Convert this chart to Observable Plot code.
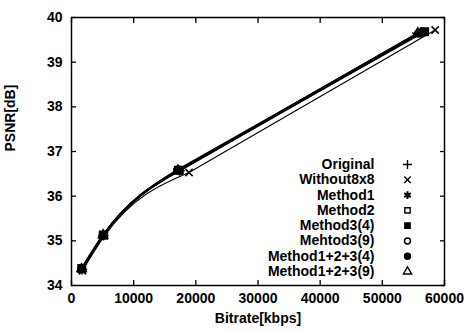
<!DOCTYPE html>
<html>
<head>
<meta charset="utf-8">
<script src="https://cdn.jsdelivr.net/npm/d3@7"></script>
<script src="https://cdn.jsdelivr.net/npm/@observablehq/plot@0.6"></script>
<style>
  html, body { margin: 0; padding: 0; background: #fff; }
  #chart svg { display: block; }
</style>
</head>
<body>
<div id="chart"></div>
<script>
// ---- data ----
const seriesNames = ["Original", "Without8x8", "Method1", "Method2", "Method3(4)", "Mehtod3(9)", "Method1+2+3(4)", "Method1+2+3(9)"];
const bitrateOriginal = [1700, 5150, 17400, 56200];
const psnrOriginal    = [34.36, 35.12, 36.57, 39.66];
const bitrateWithout  = [1750, 5300, 18900, 58500];
const psnrWithout     = [34.33, 35.11, 36.53, 39.72];
const bitrateM1       = [1680, 5120, 17300, 55300];
const psnrM1          = [34.37, 35.13, 36.58, 39.62];
const bitrateM2       = [1700, 5150, 17450, 56400];
const psnrM2          = [34.36, 35.12, 36.57, 39.67];
const bitrateM3_4     = [1650, 5100, 17200, 56800];
const psnrM3_4        = [34.38, 35.13, 36.58, 39.68];
const bitrateM3_9     = [1660, 5110, 17250, 56100];
const psnrM3_9        = [34.37, 35.12, 36.58, 39.66];
const bitrateM123_4   = [1600, 5050, 17000, 55800];
const psnrM123_4      = [34.38, 35.13, 36.59, 39.64];
const bitrateM123_9   = [1620, 5080, 17100, 55700];
const psnrM123_9      = [34.37, 35.13, 36.58, 39.65];
const xTicks = [0, 10000, 20000, 30000, 40000, 50000, 60000];
const yTicks = [34, 35, 36, 37, 38, 39, 40];

const bitrates = [bitrateOriginal, bitrateWithout, bitrateM1, bitrateM2, bitrateM3_4, bitrateM3_9, bitrateM123_4, bitrateM123_9];
const psnrs = [psnrOriginal, psnrWithout, psnrM1, psnrM2, psnrM3_4, psnrM3_9, psnrM123_4, psnrM123_9];

// styles
const symbols = ["plus", "times", "asterisk", "square", "square", "circle", "circle", "triangle"];
const filled  = [false, false, false, false, true, false, true, false];
const openFill = s => (["plus", "times", "asterisk"].includes(s) ? "none" : "#fff");
const drawOrder = [7, 5, 3, 0, 2, 6, 1, 4]; // filled square on top, as in the reference

const rows = [];
seriesNames.forEach((s, i) => bitrates[i].forEach((b, j) => rows.push({series: s, idx: i, k: j, bitrate: b, psnr: psnrs[i][j]})));

const font = "'Liberation Sans', Arial, Helvetica, sans-serif";
const marks = [];

// lines: smooth low-rate part, straight high-rate part
seriesNames.forEach((s, i) => {
  const pts = rows.filter(d => d.idx === i);
  const sw = i === 1 ? 1.1 : 1.5;
  marks.push(Plot.line(pts.filter(d => d.k <= 2), {x: "bitrate", y: "psnr", curve: "monotone-x", stroke: "#000", strokeWidth: sw}));
  marks.push(Plot.line(pts.filter(d => d.k >= 2), {x: "bitrate", y: "psnr", curve: "linear", stroke: "#000", strokeWidth: sw}));
});
// point markers
drawOrder.forEach(i => {
  marks.push(Plot.dot(rows.filter(d => d.idx === i), {
    x: "bitrate", y: "psnr", symbol: () => symbols[i], r: i === 4 ? 4.2 : 3.4,
    stroke: "#000", strokeWidth: 1.5, fill: filled[i] ? "#000" : openFill(symbols[i])
  }));
});

// axes: labels
marks.push(Plot.axisX(xTicks, {anchor: "bottom", tickSize: 0, tickPadding: 8, fontSize: 14, fontWeight: "bold", label: null, tickFormat: d => String(d)}));
marks.push(Plot.axisY(yTicks, {anchor: "left", tickSize: 0, tickPadding: 9, fontSize: 14, fontWeight: "bold", label: null, tickFormat: d => String(d)}));
// inward mirrored ticks
marks.push(Plot.axisX(xTicks, {anchor: "bottom", tickSize: -5, text: null, label: null, strokeWidth: 1.3}));
marks.push(Plot.axisX(xTicks, {anchor: "top", tickSize: -5, text: null, label: null, strokeWidth: 1.3}));
marks.push(Plot.axisY(yTicks, {anchor: "left", tickSize: -5, text: null, label: null, strokeWidth: 1.3}));
marks.push(Plot.axisY(yTicks, {anchor: "right", tickSize: -5, text: null, label: null, strokeWidth: 1.3}));
marks.push(Plot.frame({stroke: "#000", strokeWidth: 1.5}));

// axis titles
marks.push(Plot.text(["Bitrate[kbps]"], {frameAnchor: "bottom", dy: 33, fontSize: 14, fontWeight: "bold", lineAnchor: "middle", fill: "#000"}));
marks.push(Plot.text(["PSNR[dB]"], {frameAnchor: "left", dx: -61, rotate: -90, fontSize: 14, fontWeight: "bold", lineAnchor: "middle", fill: "#000"}));

// legend
seriesNames.forEach((s, i) => {
  const dy = 147 + i * 15.3;
  const isAst = symbols[i] === "asterisk";
  marks.push(Plot.text([s], {frameAnchor: "top-right", dx: -70, dy, textAnchor: "end", lineAnchor: "middle", fontSize: 14, fontWeight: "bold", fill: "#000"}));
  marks.push(Plot.dot([s], {frameAnchor: "top-right", dx: -37, dy, symbol: () => symbols[i], r: isAst ? 3.6 : 3,
    stroke: "#000", strokeWidth: isAst ? 2 : 1.4, fill: filled[i] ? "#000" : openFill(symbols[i])}));
});

const chart = Plot.plot({
  width: 469,
  height: 331,
  marginLeft: 71,
  marginRight: 25,
  marginTop: 17,
  marginBottom: 46,
  style: {fontFamily: font, background: "#fff", color: "#000"},
  x: {domain: [0, 60000], ticks: xTicks},
  y: {domain: [34, 40], ticks: yTicks},
  marks
});
document.getElementById("chart").appendChild(chart);
</script>
</body>
</html>
